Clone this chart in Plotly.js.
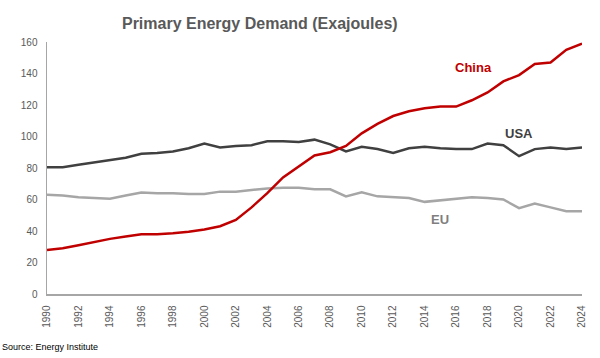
<!DOCTYPE html>
<html><head><meta charset="utf-8">
<script src="https://cdn.plot.ly/plotly-3.0.1.min.js"></script>
<style>html,body{margin:0;padding:0;background:#fff}#chart{width:600px;height:358px}</style>
</head><body><div id="chart"></div>
<script>
const years = [];
for (let y = 1990; y <= 2024; y++) years.push(y);
const china = [28,29,31,33,35,36.5,38,38,38.5,39.5,41,43,47,55,64,74,81,88,90,94,102,108,113,116,118,119,119,123,128,135,139,146,147,155,159];
const usa = [80.5,80.5,82,83.5,85,86.5,89,89.5,90.5,92.5,95.5,93,94,94.5,97,97,96.5,98,95,90.5,93.5,92,89.5,92.5,93.5,92.5,92,92,95.5,94.5,87.5,92,93,92,93];
const eu = [63,62.5,61.5,61,60.5,62.5,64.5,64,64,63.5,63.5,65,65,66,67,67.5,67.5,66.5,66.5,62,64.5,62,61.5,61,58.5,59.5,60.5,61.5,61,60,54.5,57.5,55,52.5,52.5];
const tickYears = [1990,1992,1994,1996,1998,2000,2002,2004,2006,2008,2010,2012,2014,2016,2018,2020,2022,2024];
const yTicks = [0,20,40,60,80,100,120,140,160];
const seriesNames = ['China','USA','EU'];
const seriesColors = ['#c00000','#404040','#a6a6a6'];

const traces = [
  {x: years, y: eu, name: 'EU', mode: 'lines', line: {color: seriesColors[2], width: 2.5}},
  {x: years, y: usa, name: 'USA', mode: 'lines', line: {color: seriesColors[1], width: 2.5}},
  {x: years, y: china, name: 'China', mode: 'lines', line: {color: seriesColors[0], width: 2.5}}
];
const font = 'Liberation Sans, Arial, sans-serif';
const layout = {
  width: 600, height: 358,
  margin: {l: 47, r: 18, t: 42, b: 64},
  paper_bgcolor: '#fff', plot_bgcolor: '#fff',
  showlegend: false,
  font: {family: font, color: '#595959', size: 10},
  title: {text: '<b>Primary Energy Demand (Exajoules)</b>', font: {family: font, size: 16, color: '#595959'}, x: 0.433, xanchor: 'center', y: 0.935, yanchor: 'middle'},
  xaxis: {range: [1990, 2024], tickvals: tickYears, ticktext: tickYears.map(String), tickangle: -90, showgrid: false, zeroline: false, showline: true, linecolor: '#a6a6a6', linewidth: 1.5, ticks: '', ticklabelstandoff: 6, tickfont: {size: 10, color: '#595959'}},
  yaxis: {range: [0, 160], tickvals: yTicks, showgrid: false, zeroline: false, showline: true, linecolor: '#a6a6a6', linewidth: 1.5, ticks: '', ticklabelstandoff: 6, tickfont: {size: 10, color: '#595959'}},
  annotations: [
    {x: 2017.1, y: 143.5, xref: 'x', yref: 'y', text: '<b>China</b>', showarrow: false, font: {family: font, size: 13, color: seriesColors[0]}},
    {x: 2020, y: 102, xref: 'x', yref: 'y', text: '<b>USA</b>', showarrow: false, font: {family: font, size: 13, color: seriesColors[1]}},
    {x: 2015, y: 47, xref: 'x', yref: 'y', text: '<b>EU</b>', showarrow: false, font: {family: font, size: 13, color: '#7f7f7f'}},
    {x: 0, y: 0, xref: 'paper', yref: 'paper', xshift: -47, yshift: -46, xanchor: 'left', yanchor: 'top', text: 'Source: Energy Institute', showarrow: false, font: {family: font, size: 9, color: '#000'}}
  ]
};
Plotly.newPlot('chart', traces, layout, {displayModeBar: false, staticPlot: true});
</script></body></html>
